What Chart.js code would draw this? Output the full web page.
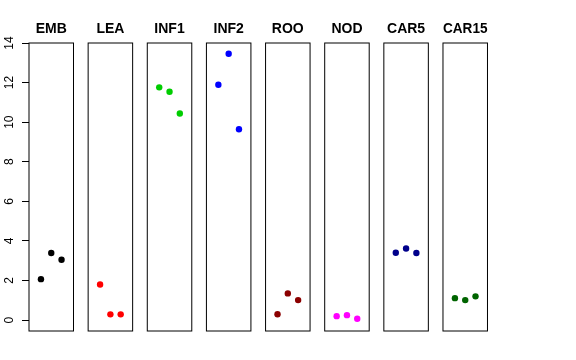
<!DOCTYPE html>
<html>
<head>
<meta charset="utf-8">
<script src="https://cdn.jsdelivr.net/npm/chart.js@4"></script>
<style>
  body { margin: 0; background: #fff; }
  #wrap { position: relative; width: 576px; height: 360px; }
  #wrap canvas { position: absolute; left: 0; top: 0; }
</style>
</head>
<body>
<div id="wrap"></div>
<script>
// panel names and the three replicate values for each
const panels = ['EMB', 'LEA', 'INF1', 'INF2', 'ROO', 'NOD', 'CAR5', 'CAR15'];
const replicates = [1, 2, 3];
const emb = [2.07, 3.39, 3.05];
const lea = [1.80, 0.29, 0.29];
const inf1 = [11.76, 11.54, 10.44];
const inf2 = [11.89, 13.46, 9.64];
const roo = [0.30, 1.35, 1.01];
const nod = [0.20, 0.25, 0.07];
const car5 = [3.40, 3.62, 3.39];
const car15 = [1.11, 1.01, 1.20];
const panelValues = [emb, lea, inf1, inf2, roo, nod, car5, car15];
const panelColors = ['#000000', '#FF0000', '#00CD00', '#0000FF', '#8B0000', '#FF00FF', '#00008B', '#006400'];
const yTicks = [0, 2, 4, 6, 8, 10, 12, 14];

const W = 576, H = 360;
const firstLeft = 29, step = 59.14, boxW = 44.5;
const boxTop = 43, boxBottom = 331;
const FONT = '"Liberation Sans", Arial, Helvetica, sans-serif';

// draws the frame round each panel
const boxPlugin = {
  id: 'panelBox',
  beforeDatasetsDraw(chart) {
    const a = chart.chartArea, ctx = chart.ctx;
    ctx.save();
    ctx.strokeStyle = '#000';
    ctx.lineWidth = 1;
    ctx.strokeRect(a.left, a.top, a.right - a.left, a.bottom - a.top);
    ctx.restore();
  }
};

// y tick labels turned sideways, like the reference
const yLabelPlugin = {
  id: 'yLabels',
  afterDraw(chart) {
    const s = chart.scales.y, ctx = chart.ctx;
    ctx.save();
    ctx.font = '12px ' + FONT;
    ctx.fillStyle = '#000';
    ctx.textAlign = 'center';
    ctx.textBaseline = 'alphabetic';
    s.ticks.forEach(t => {
      const y = s.getPixelForValue(t.value);
      ctx.save();
      ctx.translate(13.3, y);
      ctx.rotate(-Math.PI / 2);
      ctx.fillText(String(t.value), 0, 0);
      ctx.restore();
    });
    ctx.restore();
  }
};

const wrap = document.getElementById('wrap');

panels.forEach((name, i) => {
  const canvas = document.createElement('canvas');
  canvas.width = W;
  canvas.height = H;
  wrap.appendChild(canvas);

  const left = firstLeft + i * step;
  const withAxis = i === 0;

  const yScale = {
    type: 'linear',
    min: -0.55,
    max: 14,
    display: withAxis,
    afterBuildTicks: s => { s.ticks = yTicks.map(v => ({ value: v })); },
    ticks: { display: false },
    grid: { display: true, drawOnChartArea: false, drawTicks: true, tickLength: 7, color: '#000' },
    border: { display: false }
  };
  if (withAxis) yScale.afterFit = s => { s.width = firstLeft; };

  new Chart(canvas, {
    type: 'scatter',
    data: {
      datasets: [{
        data: replicates.map((r, j) => ({ x: r, y: panelValues[i][j] })),
        backgroundColor: panelColors[i],
        borderWidth: 0,
        pointRadius: 3.2,
        pointHoverRadius: 3.2
      }]
    },
    options: {
      responsive: false,
      animation: false,
      devicePixelRatio: 1,
      layout: {
        padding: {
          left: withAxis ? 0 : left,
          right: W - left - boxW,
          top: 0,
          bottom: H - boxBottom
        }
      },
      scales: {
        x: { type: 'linear', min: -0.16, max: 4.16, display: false },
        y: yScale
      },
      plugins: {
        legend: { display: false },
        tooltip: { enabled: false },
        title: {
          display: true,
          text: name,
          fullSize: false,
          color: '#000',
          font: { family: FONT, size: 14, weight: 'bold', lineHeight: 1.2 },
          padding: { top: 20.6, bottom: boxTop - 20.6 - 16.8 }
        }
      }
    },
    plugins: withAxis ? [boxPlugin, yLabelPlugin] : [boxPlugin]
  });
});
</script>
</body>
</html>
